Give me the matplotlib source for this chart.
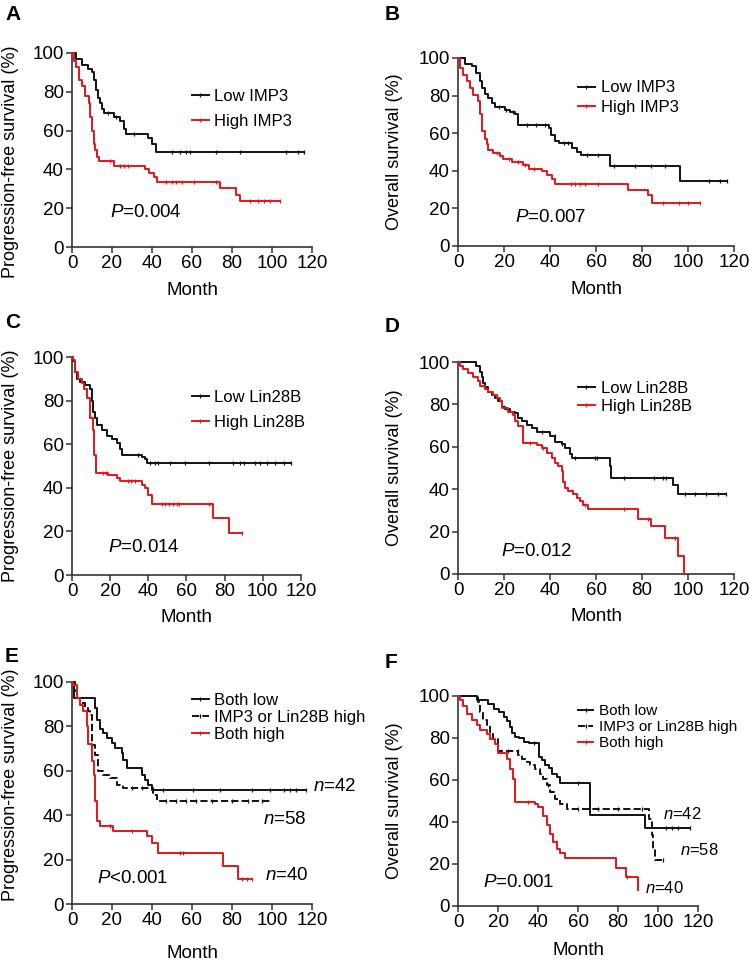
import numpy as np
import matplotlib
matplotlib.use("Agg")
import matplotlib.pyplot as plt
from matplotlib.lines import Line2D

plt.rcParams["font.family"] = ["Liberation Sans", "DejaVu Sans"]
plt.rcParams["mathtext.fontset"] = "custom"
plt.rcParams["mathtext.it"] = "Liberation Sans:italic"
plt.rcParams["mathtext.rm"] = "Liberation Sans"

RED = "#e3161b"
BLACK = "#111111"

# ---- A: PFS by IMP3 ----
a_low_t = [0, 2, 5, 8, 10, 11, 12, 13, 14, 15, 16, 21, 24, 26, 27, 38, 40, 42]
a_low_s = [100, 97, 94, 92, 90, 86, 81, 77, 74, 71, 69, 67, 65, 61, 58.5, 56, 53, 49]
a_low_end = 116
a_low_cens = [18, 22, 31, 50, 54, 57, 59, 72, 84, 107, 113, 116]
a_high_t = [0, 1, 2, 3.3, 5, 6.7, 8.3, 9.2, 10, 10.8, 11.7, 12.5, 13.3, 21, 36.7, 38.3, 40.8, 42.5, 74.2, 82.2, 84]
a_high_s = [100, 96, 93, 86, 83, 78, 74, 67, 60, 53, 50, 46.5, 44.5, 41.5, 40, 38, 36, 33.5, 30.5, 27, 23.5]
a_high_end = 104
a_high_cens = [19, 24, 26, 28, 47, 50, 52, 55, 61, 72, 89, 93, 96, 99, 104]

# ---- B: OS by IMP3 ----
b_low_t = [0, 3, 6, 8, 9.6, 10.3, 11.7, 13, 14.6, 16, 20.4, 22.6, 24.8, 26.2, 39.5, 40.5, 42, 44, 49.4, 51.6, 53.5, 66, 96.3]
b_low_s = [100, 97, 95.5, 92, 88, 84, 81, 78.5, 76, 74, 72.5, 71.5, 70, 64.5, 63, 59, 56, 55, 52, 50, 48.5, 42.5, 34.5]
b_low_end = 117
b_low_cens = [18, 21, 24, 30, 34, 37.8, 46, 48, 56, 61, 68, 77, 84, 90, 109, 114, 117]
b_high_t = [0, 1, 2.3, 3.8, 5.2, 6.7, 8.8, 9.6, 10.3, 11.7, 12.5, 13.2, 15.4, 18.3, 19.7, 23.3, 28.4, 31, 36.4, 38.6, 40.7, 42, 74, 82.7, 84.2]
b_high_s = [100, 94.5, 91, 87.5, 84, 80.5, 77, 70, 61, 57, 54, 51, 49.5, 48, 46.5, 44.5, 43, 41, 40, 37.5, 35.5, 33, 30, 27, 23]
b_high_end = 105
b_high_cens = [17, 22, 26, 29, 33, 49, 51, 53, 55, 61, 89, 96, 100, 105]

# ---- C: PFS by Lin28B ----
c_low_t = [0, 0.7, 1.6, 2.4, 4.2, 6.8, 9.4, 10.5, 11.2, 12, 13, 15.6, 18.2, 20.8, 23.4, 25, 26, 36.5, 38.3, 39.5]
c_low_s = [100, 98, 93, 90, 88.5, 87, 85.5, 80, 75, 72, 69, 66.5, 64, 62.5, 60.5, 58, 55, 54, 53, 51.5]
c_low_end = 115
c_low_cens = [34.8, 41, 43.5, 45.3, 51.4, 59, 72, 84.6, 88, 90, 96, 98.6, 102, 106.5, 111, 115]
c_high_t = [0, 0.7, 1.6, 3.3, 5.1, 6.3, 7.7, 9.4, 10.8, 11.5, 12.6, 19, 23.4, 25, 36.5, 38.3, 40, 41.8, 74.1, 82.5]
c_high_s = [100, 98.5, 93, 90, 88, 85.5, 81, 72, 66.5, 55, 47, 46, 44.5, 43, 41.5, 40, 36.5, 32.5, 26, 19.5]
c_high_end = 89
c_high_cens = [16.5, 18, 29.5, 31, 33, 47, 49, 51, 53, 55, 56, 72, 89]

# ---- D: OS by Lin28B ----
d_low_t = [0, 8, 9.6, 10.3, 11, 11.7, 13.2, 14.6, 16, 17.5, 19, 20.4, 22.6, 24.8, 26.2, 27.7, 29.9, 32, 34.2,
           40, 42.2, 45, 46.5, 48.7, 49.4, 66.1, 66.5, 93.6, 95.8]
d_low_s = [100, 98, 95.5, 93, 90, 88, 86, 84.5, 83, 81.5, 79, 78, 76.5, 76, 73.5, 72, 70.5, 69, 67,
           65, 62.5, 61.5, 59.5, 56.5, 54.5, 51, 45.5, 42, 37.5]
d_low_end = 116.5
d_low_cens = [36.4, 42, 45, 50.9, 59.6, 60.5, 72, 85, 89, 90.5, 98.7, 103, 108, 113, 116.5]
d_high_t = [0, 0.9, 2.3, 4.5, 6.7, 8.8, 9.6, 11.7, 13.2, 15.4, 16.8, 18.3, 19, 21.9, 24.1, 24.8, 26.2, 28.4,
            34.2, 36.4, 38.6, 40.7, 42.2, 43.6, 45, 45.8, 46.5, 48, 50.1, 51.6, 53, 54.5, 56.7, 78.1, 84, 90, 95.5, 98.4]
d_high_s = [100, 98, 96.5, 95, 93, 91, 88.5, 87.5, 86, 84.5, 83, 81.5, 78.5, 76.5, 75, 72, 70, 62,
            61, 59.5, 57, 54.5, 52.5, 51, 48.5, 43.5, 40.5, 39, 37.5, 36, 34.5, 32.5, 30.5, 26, 22.5, 17, 8.5, 0]
d_high_end = 98.4
d_high_cens = [31.3, 37, 49.4, 55, 72, 82.8, 94.3]

# ---- E: PFS combined ----
e_low_t = [0, 1, 11.5, 12.3, 14, 15.7, 17.3, 19.8, 21.5, 24.8, 25.7, 27.3, 34.8, 36.5, 38.2, 39.8]
e_low_s = [100, 93, 88.3, 83, 79, 77, 74.8, 72.5, 70.3, 68, 65, 61.3, 58.3, 56, 53.8, 51.5]
e_low_end = 117
e_low_cens = [45.7, 60.7, 74, 89.8, 99, 106, 109, 112, 117]
e_mix_t = [0, 1.5, 2.3, 4, 6.5, 8.2, 9, 9.8, 11.5, 13.2, 15.7, 19, 22.3, 25.7, 40.7, 42.3]
e_mix_s = [100, 95.8, 92.8, 90.5, 88.3, 86.8, 85.3, 71.8, 67.3, 59.8, 58.3, 56.8, 53.8, 52.3, 49.3, 46.5]
e_mix_end = 100
e_mix_cens = [30, 35, 47, 52, 57, 62, 70, 80, 88, 95]
e_high_t = [0, 0.7, 2.3, 4, 5.7, 7.3, 8.2, 9.8, 11, 11.7, 12.3, 14, 20.7, 37.3, 39.8, 43.2, 75.3, 82.8]
e_high_s = [100, 98.8, 92.8, 89.8, 86.8, 80, 72, 64.3, 58, 46.3, 37.2, 35, 32.7, 30.5, 27.5, 23, 17, 11.3]
e_high_end = 89.8
e_high_cens = [19, 29.8, 54, 55.7, 84.8, 87.3, 89.8]

# ---- F: OS combined ----
f_low_t = [0, 9.5, 15, 17.8, 20.3, 22.8, 24.5, 26, 27, 28.7, 30.3, 32.8, 35.3, 40.3, 42, 43.7, 45.3, 47, 49.5, 51, 66.2, 93.5]
f_low_s = [100, 98, 96.3, 94, 92.5, 90, 88, 85.4, 82.2, 80.6, 79.8, 78.2, 77.5, 71, 69.6, 67.1, 65.5, 63, 61.5, 58.7, 43.2, 36.9]
f_low_end = 116
f_low_cens = [38, 60, 104, 107, 110, 116]
f_mix_t = [0, 10, 11, 12.7, 14.3, 16, 17.7, 20.2, 30.2, 31.8, 34.3, 36, 38.5, 41, 42.7, 44.3, 46, 48.5, 51, 54.3, 95.7, 96.8, 97.7, 98.5]
f_mix_s = [100, 97, 92.4, 88.4, 86, 83, 79.7, 74, 71.7, 70.2, 68.6, 67, 65.4, 63, 60.6, 57.5, 54.3, 51.1, 48.7, 46, 41.6, 33.7, 27.3, 22]
f_mix_end = 102.7
f_mix_cens = [25, 30, 45, 60, 70, 80, 92, 102.7]
f_high_t = [0, 1, 2.7, 4.3, 6.8, 9.3, 11, 14.3, 16, 18.5, 20.2, 24.3, 26, 27.7, 28.5, 38.5, 40.2, 42.7, 44.3, 46,
            47.7, 49.3, 51, 53.5, 79, 84, 89.8]
f_high_s = [100, 98, 95, 91.6, 88.4, 86, 83.7, 82, 79.7, 77.3, 72.7, 70, 65, 60.6, 49.6, 48.5, 47, 43, 38.4, 34.4,
            30.5, 27.3, 25, 22.8, 18, 14, 7.5]
f_high_end = 89.8
f_high_cens = [35, 49, 84.3]


def km(ax, t, s, end, cens, color, ls="-"):
    t = list(t) + [end]
    s = list(s) + [s[-1]]
    ax.step(t, s, where="post", color=color, lw=1.4, ls=ls, clip_on=False, zorder=3)
    idx = np.searchsorted(np.array(t[:-1]), cens, side="right") - 1
    cy = np.array(s)[idx]
    ax.plot(cens, cy, "|", color=color, ms=3.5, mew=0.9, clip_on=False, zorder=3)


def style(ax, ylab, ylx, yly=0.5, xpad=7):
    ax.set_xlim(0, 120)
    ax.set_ylim(0, 100)
    ax.set_xticks(range(0, 121, 20))
    ax.set_yticks(range(0, 101, 20))
    for sp in ["top", "right"]:
        ax.spines[sp].set_visible(False)
    for sp in ["left", "bottom"]:
        ax.spines[sp].set_color("#333333")
        ax.spines[sp].set_linewidth(1.2)
    ax.tick_params(direction="out", length=4, width=1.1, color="#333333", labelsize=13.5, pad=2)
    ax.set_xlabel("Month", fontsize=13.5, labelpad=xpad)
    ax.set_ylabel(ylab, fontsize=13)
    ax.yaxis.set_label_coords(ylx, yly)


def legend(ax, labels, colors, styles, x, y, spacing, size=12):
    handles = [Line2D([0], [0], color=c, ls=st, lw=1.4, marker="|", ms=3.5, mew=0.9)
               for c, st in zip(colors, styles)]
    ax.legend(handles, labels, loc="center left", bbox_to_anchor=(x, y), frameon=False,
              fontsize=size, handlelength=1.0, handletextpad=0.35, labelspacing=spacing,
              borderpad=0, borderaxespad=0)


fig = plt.figure(figsize=(7.5, 9.6), dpi=100)

axA = fig.add_axes([0.096, 0.7427, 0.32, 0.2021])
axB = fig.add_axes([0.6107, 0.7438, 0.368, 0.1958])
axC = fig.add_axes([0.096, 0.401, 0.3053, 0.2271])
axD = fig.add_axes([0.6107, 0.4021, 0.368, 0.2208])
axE = fig.add_axes([0.096, 0.0583, 0.32, 0.2313])
axF = fig.add_axes([0.6107, 0.05625, 0.32, 0.2188])

km(axA, a_low_t, a_low_s, a_low_end, a_low_cens, BLACK)
km(axA, a_high_t, a_high_s, a_high_end, a_high_cens, RED)
style(axA, "Progression-free survival (%)", -0.221, 0.44)
legend(axA, ["Low IMP3", "High IMP3"], [BLACK, RED], ["-", "-"], 0.5, 0.711, 0.6)
axA.text(19, 18, r"$P$=0.004", fontsize=13.5, va="center")

km(axB, b_low_t, b_low_s, b_low_end, b_low_cens, BLACK)
km(axB, b_high_t, b_high_s, b_high_end, b_high_cens, RED)
style(axB, "Overall survival (%)", -0.2)
legend(axB, ["Low IMP3", "High IMP3"], [BLACK, RED], ["-", "-"], 0.435, 0.79, 0.25)
axB.text(24.8, 15, r"$P$=0.007", fontsize=13.5, va="center")

km(axC, c_low_t, c_low_s, c_low_end, c_low_cens, BLACK)
km(axC, c_high_t, c_high_s, c_high_end, c_high_cens, RED)
style(axC, "Progression-free survival (%)", -0.231, 0.5, 6)
legend(axC, ["Low Lin28B", "High Lin28B"], [BLACK, RED], ["-", "-"], 0.524, 0.759, 0.6)
axC.text(19, 12.8, r"$P$=0.014", fontsize=13.5, va="center")

km(axD, d_low_t, d_low_s, d_low_end, d_low_cens, BLACK)
km(axD, d_high_t, d_high_s, d_high_end, d_high_cens, RED)
style(axD, "Overall survival (%)", -0.2, 0.5, 6)
legend(axD, ["Low Lin28B", "High Lin28B"], [BLACK, RED], ["-", "-"], 0.435, 0.833, 0.2)
axD.text(18.7, 10.4, r"$P$=0.012", fontsize=13.5, va="center")

groups = ["Both low", "IMP3 or Lin28B high", "Both high"]
km(axE, e_low_t, e_low_s, e_low_end, e_low_cens, BLACK)
km(axE, e_mix_t, e_mix_s, e_mix_end, e_mix_cens, BLACK, "--")
km(axE, e_high_t, e_high_s, e_high_end, e_high_cens, RED)
style(axE, "Progression-free survival (%)", -0.221, 0.536, 11)
legend(axE, groups, [BLACK, BLACK, RED], ["-", "--", "-"], 0.5, 0.842, 0.12)
axE.text(12.5, 11.3, r"$P$<0.001", fontsize=13.5, va="center")
axE.text(120.5, 53, r"$n$=42", fontsize=13.5, va="center")
axE.text(95.7, 38, r"$n$=58", fontsize=13.5, va="center")
axE.text(96.5, 13, r"$n$=40", fontsize=13.5, va="center")

km(axF, f_low_t, f_low_s, f_low_end, f_low_cens, BLACK)
km(axF, f_mix_t, f_mix_s, f_mix_end, f_mix_cens, BLACK, "--")
km(axF, f_high_t, f_high_s, f_high_end, f_high_cens, RED)
style(axF, "Overall survival (%)", -0.229, 0.5, 8)
legend(axF, groups, [BLACK, BLACK, RED], ["-", "--", "-"], 0.5, 0.852, 0.12, size=11)
axF.text(12.5, 11, r"$P$=0.001", fontsize=13.5, va="center")
axF.text(102.5, 44, r"$n$=42", fontsize=12, va="center")
axF.text(111, 26.7, r"$n$=58", fontsize=12, va="center")
axF.text(93.5, 8.6, r"$n$=40", fontsize=12, va="center")

for lab, x, y in [("A", 5, 15), ("B", 385, 15), ("C", 5, 322), ("D", 385, 327), ("E", 5, 657), ("F", 385, 662)]:
    fig.text(x / 750, 1 - y / 960, lab, fontsize=15, fontweight="bold", va="center", ha="left")

fig.savefig("out.png", dpi=100)
